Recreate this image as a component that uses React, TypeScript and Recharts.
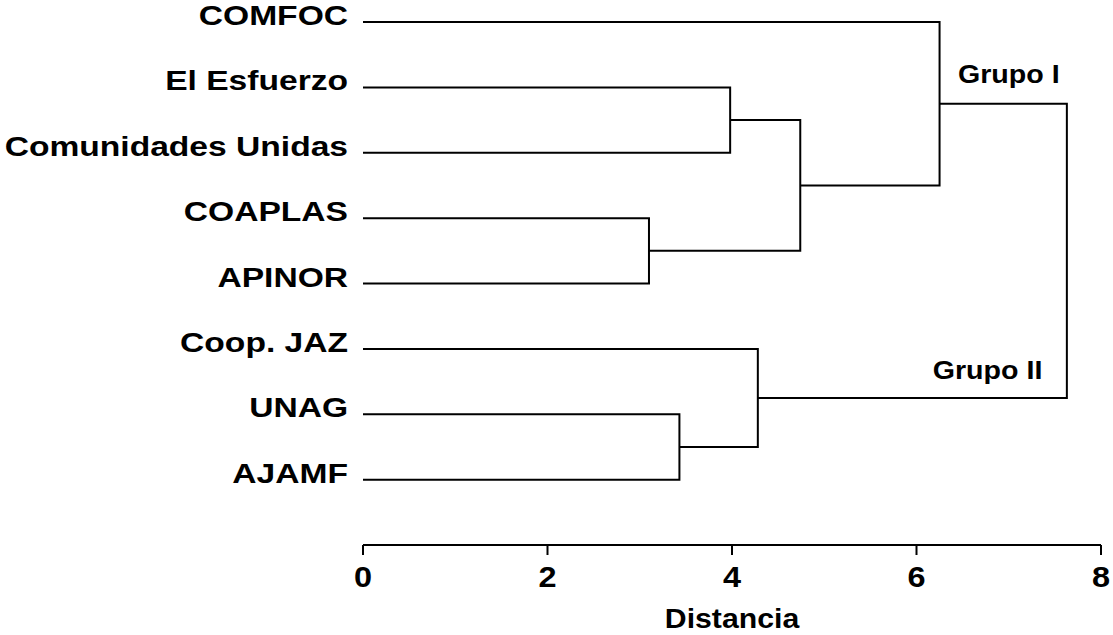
import React from 'react';
import { ScatterChart, Scatter, XAxis, YAxis } from 'recharts';

// Leaves (top to bottom)
const leafLabels = [
  'COMFOC',
  'El Esfuerzo',
  'Comunidades Unidas',
  'COAPLAS',
  'APINOR',
  'Coop. JAZ',
  'UNAG',
  'AJAMF',
];
// Linkage: node ids 0..7 are leaves, 8.. are merged clusters in order
const mergeLeft = [1, 3, 8, 0, 6, 5, 11];
const mergeRight = [2, 4, 9, 10, 7, 12, 13];
const mergeHeight = [3.98, 3.1, 4.74, 6.25, 3.43, 4.28, 7.63];

const xTicks = [0, 2, 4, 6, 8];
const yTicks = [0, 1, 2, 3, 4, 5, 6, 7];

const groupNames = ['Grupo I', 'Grupo II'];
const groupX = [7.0, 6.77];
const groupY = [0.94, 5.46];

const FONT = '"Liberation Sans", Arial, Helvetica, sans-serif';

// build node positions and U-shaped link segments
const nodeX: number[] = leafLabels.map(() => 0);
const nodeY: number[] = leafLabels.map((_, i) => i);
const segments: { x: number; y: number }[][] = [];
mergeHeight.forEach((h, k) => {
  const l = mergeLeft[k];
  const r = mergeRight[k];
  segments.push([
    { x: nodeX[l], y: nodeY[l] },
    { x: h, y: nodeY[l] },
    { x: h, y: nodeY[r] },
    { x: nodeX[r], y: nodeY[r] },
  ]);
  nodeX.push(h);
  nodeY.push((nodeY[l] + nodeY[r]) / 2);
});

const groupData = groupNames.map((name, i) => ({ name, x: groupX[i], y: groupY[i] }));

const EmptyShape = () => <g />;

const XTick = (props: any) => {
  const { x, y, payload } = props;
  return (
    <text
      transform={`translate(${x},${y}) scale(1.12,1)`}
      textAnchor="middle"
      dy="0.716em"
      fontSize={29}
      fontWeight="bold"
      fontFamily={FONT}
      fill="#000"
    >
      {payload.value}
    </text>
  );
};

const YTick = (props: any) => {
  const { x, y, payload } = props;
  return (
    <text
      transform={`translate(${x},${y}) scale(1.2,1)`}
      textAnchor="end"
      dy={3}
      fontSize={28}
      fontWeight="bold"
      fontFamily={FONT}
      fill="#000"
    >
      {leafLabels[payload.value]}
    </text>
  );
};

const DistLabel = (props: any) => {
  const vb = props.viewBox || {};
  return (
    <text
      transform={`translate(${vb.x + vb.width / 2},${vb.y + vb.height - 7}) scale(1.12,1)`}
      textAnchor="middle"
      fontSize={27}
      fontWeight="bold"
      fontFamily={FONT}
      fill="#000"
    >
      Distancia
    </text>
  );
};

const GroupText = (props: any) => {
  const { cx, cy, payload } = props;
  return (
    <text
      transform={`translate(${cx},${cy}) scale(1.1,1)`}
      textAnchor="middle"
      fontSize={26}
      fontWeight="bold"
      fontFamily={FONT}
      fill="#000"
    >
      {payload.name}
    </text>
  );
};

export default function App() {
  return (
    <div style={{ position: 'absolute', left: 0, top: 0, background: '#fff' }}>
      <ScatterChart width={1113} height={635} margin={{ top: 22, right: 12, bottom: 0, left: 0 }}>
        <XAxis
          type="number"
          dataKey="x"
          domain={[0, 8]}
          ticks={xTicks}
          interval={0}
          allowDataOverflow
          axisLine={{ stroke: '#000', strokeWidth: 2 }}
          tickLine={{ stroke: '#000', strokeWidth: 2 }}
          tickSize={10}
          tickMargin={11}
          height={90}
          tick={XTick}
          label={DistLabel}
        />
        <YAxis
          type="number"
          dataKey="y"
          domain={[0, 8]}
          reversed
          ticks={yTicks}
          interval={0}
          axisLine={false}
          tickLine={false}
          tickSize={0}
          tickMargin={15}
          width={363}
          tick={YTick}
        />
        {segments.map((seg, i) => (
          <Scatter
            key={i}
            data={seg}
            line={{ stroke: '#000', strokeWidth: 2 }}
            lineType="joint"
            shape={EmptyShape}
            fill="#000"
            isAnimationActive={false}
          />
        ))}
        <Scatter data={groupData} shape={GroupText} fill="#000" isAnimationActive={false} />
      </ScatterChart>
    </div>
  );
}
